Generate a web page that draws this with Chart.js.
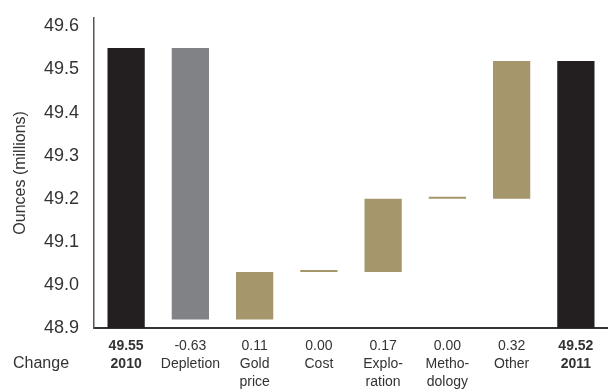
<!DOCTYPE html>
<html>
<head>
<meta charset="utf-8">
<script src="https://cdn.jsdelivr.net/npm/chart.js@4.4.1/dist/chart.umd.min.js"></script>
<style>
  html, body { margin: 0; padding: 0; background: #fff; overflow: hidden; }
</style>
</head>
<body>
<canvas id="chart" width="608" height="389"></canvas>
<script>
// opening and closing totals (millions of ounces)
const startLabel = "2010";
const startTotal = 49.55;
const endLabel = "2011";
const endTotal = 49.52;

// the changes in between
const stepNames = [["Depletion"], ["Gold", "price"], ["Cost"], ["Explo-", "ration"], ["Metho-", "dology"], ["Other"]];
const stepChanges = [-0.63, 0.11, 0.00, 0.17, 0.00, 0.32];

const yTicks = [48.9, 49.0, 49.1, 49.2, 49.3, 49.4, 49.5, 49.6];
const yMin = 48.9;
const yMax = 49.62;

const totalColor = "#231f20";
const downColor = "#808285";
const upColor = "#a6966c";
const textColor = "#333333";

// build the floating bars for the waterfall
let labels = [[startTotal.toFixed(2), startLabel]];
let bars = [[yMin, startTotal]];
let colors = [totalColor];

let level = startTotal;
for (let i = 0; i < stepChanges.length; i++) {
    let next = Math.round((level + stepChanges[i]) * 100) / 100;
    labels.push([stepChanges[i].toFixed(2)].concat(stepNames[i]));
    bars.push([Math.min(level, next), Math.max(level, next)]);
    colors.push(stepChanges[i] < 0 ? downColor : upColor);
    level = next;
}

labels.push([endTotal.toFixed(2), endLabel]);
bars.push([yMin, endTotal]);
colors.push(totalColor);

// "Change" caption in front of the value row
const changeCaption = {
    id: "changeCaption",
    afterDraw(chart) {
        let ctx = chart.ctx;
        ctx.save();
        ctx.font = "16px 'Liberation Sans', Arial, sans-serif";
        ctx.fillStyle = textColor;
        ctx.textAlign = "left";
        ctx.textBaseline = "alphabetic";
        ctx.fillText("Change", 13, 368);
        ctx.restore();
    }
};

new Chart(document.getElementById("chart"), {
    type: "bar",
    data: {
        labels: labels,
        datasets: [{
            data: bars,
            backgroundColor: colors,
            borderWidth: 0,
            borderSkipped: false,
            minBarLength: 2,
            barPercentage: 0.58,
            categoryPercentage: 1
        }]
    },
    options: {
        responsive: false,
        animation: false,
        devicePixelRatio: 1,
        layout: { padding: { top: 17, right: 0, left: 0, bottom: 0 } },
        plugins: {
            legend: { display: false },
            tooltip: { enabled: false }
        },
        scales: {
            x: {
                grid: { display: false },
                border: { display: true, color: "#333333", width: 2 },
                ticks: {
                    color: textColor,
                    padding: 1,
                    maxRotation: 0,
                    autoSkip: false,
                    font: (ctx) => {
                        let bold = ctx.index === 0 || ctx.index === labels.length - 1;
                        return {
                            family: "'Liberation Sans', Arial, sans-serif",
                            size: 14,
                            weight: bold ? "bold" : "normal",
                            lineHeight: 1.3
                        };
                    }
                },
                afterFit: (scale) => { scale.height = 61; }
            },
            y: {
                min: yMin,
                max: yMax,
                grid: { display: false },
                border: { display: true, color: "#555555", width: 1.5 },
                afterBuildTicks: (scale) => {
                    scale.ticks = yTicks.map(v => ({ value: v }));
                },
                ticks: {
                    color: textColor,
                    padding: 7,
                    font: { family: "'Liberation Sans', Arial, sans-serif", size: 18 },
                    callback: (v) => Number(v).toFixed(1)
                },
                title: {
                    display: true,
                    text: "Ounces (millions)",
                    color: textColor,
                    padding: { top: 11, bottom: 0 },
                    font: { family: "'Liberation Sans', Arial, sans-serif", size: 16 }
                },
                afterFit: (scale) => { scale.width = 94; }
            }
        }
    },
    plugins: [changeCaption]
});
</script>
</body>
</html>
